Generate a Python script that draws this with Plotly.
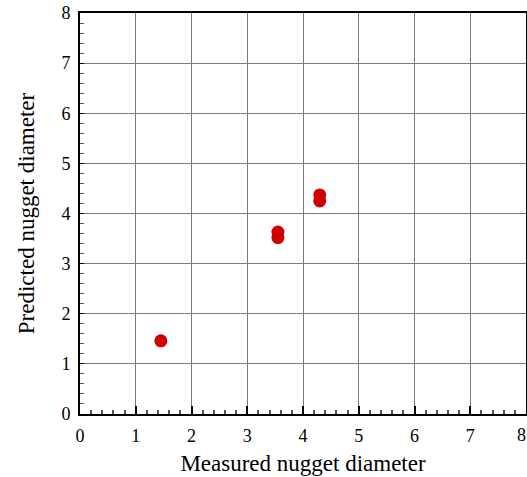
import plotly.graph_objects as go

measured = [1.45, 3.55, 3.55, 4.3, 4.3]
predicted = [1.46, 3.63, 3.52, 4.37, 4.25]
tick_vals = [0, 1, 2, 3, 4, 5, 6, 7, 8]
x_tick_text = ["0", "1", "2", "3", "4", "5", "6", "7", ""]
y_tick_text = ["0", "1", "2", "3", "4", "5", "6", "7", "8"]
x_last_label = "8"

fig = go.Figure()
fig.add_trace(go.Scatter(
    x=measured, y=predicted, mode="markers",
    marker=dict(size=13, color="#d10000", line=dict(width=0)),
    showlegend=False,
))

font = "Liberation Serif, Times New Roman, serif"
axis_common = dict(
    range=[0, 8], tickvals=tick_vals, showline=True, linecolor="black",
    linewidth=2, mirror=True, showgrid=True, gridcolor="#7a7a7a", gridwidth=1,
    zeroline=False, tickfont=dict(family=font, size=18, color="black"),
    ticks="inside", tickcolor="black", automargin=False,
    minor=dict(ticks="inside", dtick=0.2, ticklen=4, tickcolor="#555", showgrid=False),
)

fig.update_layout(
    width=527, height=477,
    margin=dict(l=80, r=1, t=13, b=63),
    font=dict(family=font, color="black"),
    plot_bgcolor="white", paper_bgcolor="white",
    xaxis=dict(**axis_common, ticktext=x_tick_text, ticklen=8, tickwidth=2, ticklabelstandoff=4,
               title=dict(text="Measured nugget diameter", font=dict(family=font, size=23, color="black"), standoff=10)),
    yaxis=dict(**axis_common, ticktext=y_tick_text, ticklen=4, tickwidth=1, ticklabelstandoff=4,
               title=dict(text="Predicted nugget diameter", font=dict(family=font, size=23, color="black"), standoff=20)),
)

fig.add_annotation(
    x=tick_vals[-1], y=0, xref="x", yref="y", text=x_last_label, showarrow=False,
    xanchor="right", yanchor="top", xshift=2, yshift=-9,
    font=dict(family=font, size=18, color="black"),
)

fig.write_html("out.html")
